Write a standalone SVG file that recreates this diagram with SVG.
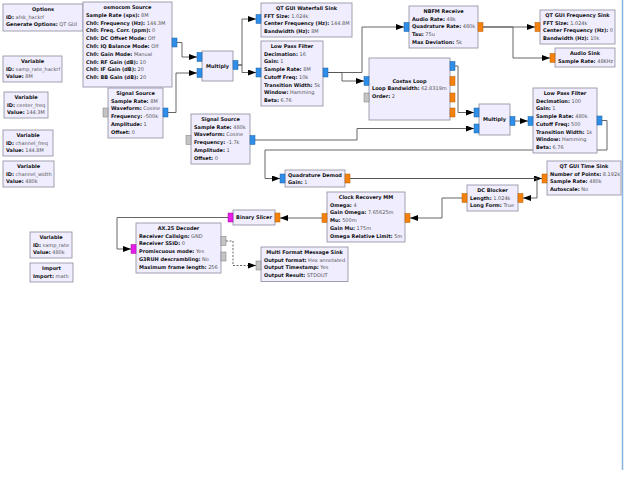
<svg xmlns="http://www.w3.org/2000/svg" width="625" height="500" viewBox="0 0 625 500">
<style>
.blk{fill:#f0edff;stroke:#8a8a9c;stroke-width:0.8}
text{font-family:"DejaVu Sans",sans-serif;font-size:5px;fill:#111}
.ti{font-weight:bold;text-anchor:middle}
.l{font-weight:bold}
.v{fill:#555;font-weight:normal}
.pb{fill:#2f8fe8;stroke:#1c5fa0;stroke-width:0.5}
.po{fill:#f5820f;stroke:#b45c06;stroke-width:0.5}
.pg{fill:#c4c4c4;stroke:#7a7a7a;stroke-width:0.5}
.pm{fill:#e81ce8;stroke:#a010a0;stroke-width:0.5}
.c{fill:none;stroke:#555;stroke-width:0.9;marker-end:url(#ah)}
.d{stroke-dasharray:2,1.5}
</style>
<defs>
<marker id="ah" markerWidth="8" markerHeight="6" refX="8" refY="3" orient="auto" markerUnits="userSpaceOnUse"><path d="M0,0 L8,3 L0,6 z" fill="#000"/></marker>
</defs>
<rect width="625" height="500" fill="#fff"/>
<line x1="622.5" y1="0" x2="622.5" y2="470" stroke="#8ab4e0" stroke-width="1.5"/>

<g id="connectors">
<path class="c" d="M177,42.5 H182 V57 H197"/>
<path class="c" d="M168,112.5 H176 V73 H197"/>
<path class="c" d="M238,65 H242 V19 H256"/>
<path class="c" d="M238,65 H242 V72.5 H256"/>
<path class="c" d="M328,72.5 H362 V27 H404"/>
<path class="c" d="M328,72.5 H342 V81 H364"/>
<path class="c" d="M483,27 H535"/>
<path class="c" d="M483,27 H513 V58 H550"/>
<path class="c" d="M455,66 H458 V112.5 H474"/>
<path class="c" d="M255,140 H357 V128.5 H474"/>
<path class="c" d="M515,121 H528"/>
<path class="c" d="M602,120.5 H607 V150 H265 V178.5 H280"/>
<path class="c" d="M350,178.5 H542"/>
<path class="c" d="M350,178.5 H537 V198 H523"/>
<path class="c" d="M462,198 H442 V218 H410"/>
<path class="c" d="M322,218 H280"/>
<path class="c" d="M228,217.5 H117 V249 H131"/>
<path class="c d" d="M226,241 H233 V265.5 H256"/>
</g>

<g id="options">
<rect class="blk" x="3" y="4" width="80" height="27"/>
<text class="ti" x="43" y="11">Options</text>
<text x="6" y="18.7"><tspan class="l">ID:</tspan><tspan class="v"> afsk_hackrf</tspan></text>
<text x="6" y="26.4"><tspan class="l">Generate Options:</tspan><tspan class="v"> QT GUI</tspan></text>
</g>

<g id="var_samp_rate_hackrf">
<rect class="blk" x="3" y="56" width="59" height="26"/>
<text class="ti" x="32.5" y="63">Variable</text>
<text x="6" y="70.7"><tspan class="l">ID:</tspan><tspan class="v"> samp_rate_hackrf</tspan></text>
<text x="6" y="78.4"><tspan class="l">Value:</tspan><tspan class="v"> 8M</tspan></text>
</g>

<g id="var_center_freq">
<rect class="blk" x="4" y="92" width="44" height="26"/>
<text class="ti" x="26" y="99">Variable</text>
<text x="7" y="106.7"><tspan class="l">ID:</tspan><tspan class="v"> center_freq</tspan></text>
<text x="7" y="114.4"><tspan class="l">Value:</tspan><tspan class="v"> 144.3M</tspan></text>
</g>

<g id="var_channel_freq">
<rect class="blk" x="3" y="130" width="50" height="26"/>
<text class="ti" x="28" y="137">Variable</text>
<text x="6" y="144.7"><tspan class="l">ID:</tspan><tspan class="v"> channel_freq</tspan></text>
<text x="6" y="152.4"><tspan class="l">Value:</tspan><tspan class="v"> 144.8M</tspan></text>
</g>

<g id="var_channel_width">
<rect class="blk" x="3" y="161" width="51" height="26"/>
<text class="ti" x="28.5" y="168">Variable</text>
<text x="6" y="175.7"><tspan class="l">ID:</tspan><tspan class="v"> channel_width</tspan></text>
<text x="6" y="183.4"><tspan class="l">Value:</tspan><tspan class="v"> 480k</tspan></text>
</g>

<g id="var_samp_rate">
<rect class="blk" x="30" y="232" width="42" height="26"/>
<text class="ti" x="51" y="239">Variable</text>
<text x="33" y="246.7"><tspan class="l">ID:</tspan><tspan class="v"> samp_rate</tspan></text>
<text x="33" y="254.4"><tspan class="l">Value:</tspan><tspan class="v"> 480k</tspan></text>
</g>

<g id="import">
<rect class="blk" x="30" y="263" width="43" height="19"/>
<text class="ti" x="51.5" y="270">Import</text>
<text x="33" y="277.7"><tspan class="l">Import:</tspan><tspan class="v"> math</tspan></text>
</g>

<g id="osmocom_source">
<rect class="blk" x="83" y="2" width="89" height="85"/>
<rect class="pb" x="172" y="38" width="5" height="9"/>
<text class="ti" x="127.5" y="9">osmocom Source</text>
<text x="86" y="16.8"><tspan class="l">Sample Rate (sps):</tspan><tspan class="v"> 8M</tspan></text>
<text x="86" y="24.6"><tspan class="l">Ch0: Frequency (Hz):</tspan><tspan class="v"> 144.3M</tspan></text>
<text x="86" y="32.4"><tspan class="l">Ch0: Freq. Corr. (ppm):</tspan><tspan class="v"> 0</tspan></text>
<text x="86" y="40.2"><tspan class="l">Ch0: DC Offset Mode:</tspan><tspan class="v"> Off</tspan></text>
<text x="86" y="48"><tspan class="l">Ch0: IQ Balance Mode:</tspan><tspan class="v"> Off</tspan></text>
<text x="86" y="55.8"><tspan class="l">Ch0: Gain Mode:</tspan><tspan class="v"> Manual</tspan></text>
<text x="86" y="63.6"><tspan class="l">Ch0: RF Gain (dB):</tspan><tspan class="v"> 10</tspan></text>
<text x="86" y="71.4"><tspan class="l">Ch0: IF Gain (dB):</tspan><tspan class="v"> 20</tspan></text>
<text x="86" y="79.2"><tspan class="l">Ch0: BB Gain (dB):</tspan><tspan class="v"> 20</tspan></text>
</g>

<g id="signal_source_1">
<rect class="blk" x="108" y="88" width="55" height="50"/>
<rect class="pg" x="103" y="108" width="5" height="9"/>
<rect class="pb" x="163" y="108" width="5" height="9"/>
<text class="ti" x="135.5" y="95">Signal Source</text>
<text x="111" y="102.7"><tspan class="l">Sample Rate:</tspan><tspan class="v"> 8M</tspan></text>
<text x="111" y="110.4"><tspan class="l">Waveform:</tspan><tspan class="v"> Cosine</tspan></text>
<text x="111" y="118.1"><tspan class="l">Frequency:</tspan><tspan class="v"> -500k</tspan></text>
<text x="111" y="125.8"><tspan class="l">Amplitude:</tspan><tspan class="v"> 1</tspan></text>
<text x="111" y="133.5"><tspan class="l">Offset:</tspan><tspan class="v"> 0</tspan></text>
</g>

<g id="multiply_1">
<rect class="blk" x="202" y="51" width="31" height="30"/>
<rect class="pb" x="197" y="52.5" width="5" height="9"/>
<rect class="pb" x="197" y="68.5" width="5" height="9"/>
<rect class="pb" x="233" y="60.5" width="5" height="9"/>
<text class="ti" x="217.5" y="67.8">Multiply</text>
</g>

<g id="waterfall_sink">
<rect class="blk" x="261" y="3" width="91" height="34"/>
<rect class="pb" x="256" y="14.5" width="5" height="9"/>
<text class="ti" x="306.5" y="10">QT GUI Waterfall Sink</text>
<text x="264" y="17.7"><tspan class="l">FFT Size:</tspan><tspan class="v"> 1.024k</tspan></text>
<text x="264" y="25.4"><tspan class="l">Center Frequency (Hz):</tspan><tspan class="v"> 144.8M</tspan></text>
<text x="264" y="33.1"><tspan class="l">Bandwidth (Hz):</tspan><tspan class="v"> 8M</tspan></text>
</g>

<g id="low_pass_filter_1">
<rect class="blk" x="261" y="41" width="62" height="65"/>
<rect class="pb" x="256" y="68" width="5" height="9"/>
<rect class="pb" x="323" y="68" width="5" height="9"/>
<text class="ti" x="292" y="48">Low Pass Filter</text>
<text x="264" y="55.7"><tspan class="l">Decimation:</tspan><tspan class="v"> 16</tspan></text>
<text x="264" y="63.4"><tspan class="l">Gain:</tspan><tspan class="v"> 1</tspan></text>
<text x="264" y="71.1"><tspan class="l">Sample Rate:</tspan><tspan class="v"> 8M</tspan></text>
<text x="264" y="78.8"><tspan class="l">Cutoff Freq:</tspan><tspan class="v"> 10k</tspan></text>
<text x="264" y="86.5"><tspan class="l">Transition Width:</tspan><tspan class="v"> 5k</tspan></text>
<text x="264" y="94.2"><tspan class="l">Window:</tspan><tspan class="v"> Hamming</tspan></text>
<text x="264" y="101.9"><tspan class="l">Beta:</tspan><tspan class="v"> 6.76</tspan></text>
</g>

<g id="nbfm_receive">
<rect class="blk" x="409" y="6" width="69" height="42"/>
<rect class="pb" x="404" y="22.5" width="5" height="9"/>
<rect class="po" x="478" y="22.5" width="5" height="9"/>
<text class="ti" x="443.5" y="13">NBFM Receive</text>
<text x="412" y="20.7"><tspan class="l">Audio Rate:</tspan><tspan class="v"> 48k</tspan></text>
<text x="412" y="28.4"><tspan class="l">Quadrature Rate:</tspan><tspan class="v"> 480k</tspan></text>
<text x="412" y="36.1"><tspan class="l">Tau:</tspan><tspan class="v"> 75u</tspan></text>
<text x="412" y="43.8"><tspan class="l">Max Deviation:</tspan><tspan class="v"> 5k</tspan></text>
</g>

<g id="freq_sink">
<rect class="blk" x="540" y="10" width="75" height="34"/>
<rect class="po" x="535" y="22.5" width="5" height="9"/>
<text class="ti" x="577.5" y="17">QT GUI Frequency Sink</text>
<text x="543" y="24.7"><tspan class="l">FFT Size:</tspan><tspan class="v"> 1.024k</tspan></text>
<text x="543" y="32.4"><tspan class="l">Center Frequency (Hz):</tspan><tspan class="v"> 0</tspan></text>
<text x="543" y="40.1"><tspan class="l">Bandwidth (Hz):</tspan><tspan class="v"> 10k</tspan></text>
</g>

<g id="audio_sink">
<rect class="blk" x="555" y="48" width="60" height="19"/>
<rect class="po" x="550" y="53.5" width="5" height="9"/>
<text class="ti" x="585" y="55">Audio Sink</text>
<text x="558" y="62.7"><tspan class="l">Sample Rate:</tspan><tspan class="v"> 48KHz</tspan></text>
</g>

<g id="costas_loop">
<rect class="blk" x="369" y="58" width="81" height="62"/>
<rect class="pb" x="364" y="76.5" width="5" height="9"/>
<rect class="pg" x="364" y="93" width="5" height="9"/>
<rect class="pb" x="450" y="61.5" width="5" height="9"/>
<rect class="po" x="450" y="76.5" width="5" height="9"/>
<rect class="po" x="450" y="93" width="5" height="9"/>
<rect class="po" x="450" y="108" width="5" height="9"/>
<text class="ti" x="409.5" y="82.5">Costas Loop</text>
<text x="372" y="90.2"><tspan class="l">Loop Bandwidth:</tspan><tspan class="v"> 62.8319m</tspan></text>
<text x="372" y="97.9"><tspan class="l">Order:</tspan><tspan class="v"> 2</tspan></text>
</g>

<g id="signal_source_2">
<rect class="blk" x="191" y="114" width="59" height="50"/>
<rect class="pg" x="186" y="135.5" width="5" height="9"/>
<rect class="pb" x="250" y="135.5" width="5" height="9"/>
<text class="ti" x="220.5" y="121">Signal Source</text>
<text x="194" y="128.7"><tspan class="l">Sample Rate:</tspan><tspan class="v"> 480k</tspan></text>
<text x="194" y="136.4"><tspan class="l">Waveform:</tspan><tspan class="v"> Cosine</tspan></text>
<text x="194" y="144.1"><tspan class="l">Frequency:</tspan><tspan class="v"> -1.7k</tspan></text>
<text x="194" y="151.8"><tspan class="l">Amplitude:</tspan><tspan class="v"> 1</tspan></text>
<text x="194" y="159.5"><tspan class="l">Offset:</tspan><tspan class="v"> 0</tspan></text>
</g>

<g id="multiply_2">
<rect class="blk" x="479" y="104" width="31" height="31"/>
<rect class="pb" x="474" y="108" width="5" height="9"/>
<rect class="pb" x="474" y="124" width="5" height="9"/>
<rect class="pb" x="510" y="116.5" width="5" height="9"/>
<text class="ti" x="494.5" y="121.3">Multiply</text>
</g>

<g id="low_pass_filter_2">
<rect class="blk" x="533" y="88" width="64" height="65"/>
<rect class="pb" x="528" y="116.5" width="5" height="9"/>
<rect class="pb" x="597" y="116" width="5" height="9"/>
<text class="ti" x="565" y="95">Low Pass Filter</text>
<text x="536" y="102.7"><tspan class="l">Decimation:</tspan><tspan class="v"> 100</tspan></text>
<text x="536" y="110.4"><tspan class="l">Gain:</tspan><tspan class="v"> 1</tspan></text>
<text x="536" y="118.1"><tspan class="l">Sample Rate:</tspan><tspan class="v"> 480k</tspan></text>
<text x="536" y="125.8"><tspan class="l">Cutoff Freq:</tspan><tspan class="v"> 500</tspan></text>
<text x="536" y="133.5"><tspan class="l">Transition Width:</tspan><tspan class="v"> 1k</tspan></text>
<text x="536" y="141.2"><tspan class="l">Window:</tspan><tspan class="v"> Hamming</tspan></text>
<text x="536" y="148.9"><tspan class="l">Beta:</tspan><tspan class="v"> 6.76</tspan></text>
</g>

<g id="quadrature_demod">
<rect class="blk" x="285" y="170" width="60" height="17"/>
<rect class="pb" x="280" y="174" width="5" height="9"/>
<rect class="po" x="345" y="174" width="5" height="9"/>
<text x="288" y="176.5" class="l">Quadrature Demod</text>
<text x="288" y="184"><tspan class="l">Gain:</tspan><tspan class="v"> 1</tspan></text>
</g>

<g id="time_sink">
<rect class="blk" x="547" y="161" width="74" height="34"/>
<rect class="po" x="542" y="174" width="5" height="9"/>
<text class="ti" x="584" y="168">QT GUI Time Sink</text>
<text x="550" y="175.7"><tspan class="l">Number of Points:</tspan><tspan class="v"> 8.192k</tspan></text>
<text x="550" y="183.4"><tspan class="l">Sample Rate:</tspan><tspan class="v"> 480k</tspan></text>
<text x="550" y="191.1"><tspan class="l">Autoscale:</tspan><tspan class="v"> No</tspan></text>
</g>

<g id="dc_blocker">
<rect class="blk" x="467" y="185" width="51" height="26"/>
<rect class="po" x="462" y="193.5" width="5" height="9"/>
<rect class="po" x="518" y="193.5" width="5" height="9"/>
<text class="ti" x="492.5" y="192">DC Blocker</text>
<text x="470" y="199.7"><tspan class="l">Length:</tspan><tspan class="v"> 1.024k</tspan></text>
<text x="470" y="207.4"><tspan class="l">Long Form:</tspan><tspan class="v"> True</tspan></text>
</g>

<g id="clock_recovery_mm">
<rect class="blk" x="327" y="192" width="78" height="50"/>
<rect class="po" x="322" y="213.5" width="5" height="9"/>
<rect class="po" x="405" y="213.5" width="5" height="9"/>
<text class="ti" x="366" y="199">Clock Recovery MM</text>
<text x="330" y="206.7"><tspan class="l">Omega:</tspan><tspan class="v"> 4</tspan></text>
<text x="330" y="214.4"><tspan class="l">Gain Omega:</tspan><tspan class="v"> 7.65625m</tspan></text>
<text x="330" y="222.1"><tspan class="l">Mu:</tspan><tspan class="v"> 500m</tspan></text>
<text x="330" y="229.8"><tspan class="l">Gain Mu:</tspan><tspan class="v"> 175m</tspan></text>
<text x="330" y="237.5"><tspan class="l">Omega Relative Limit:</tspan><tspan class="v"> 5m</tspan></text>
</g>

<g id="binary_slicer">
<rect class="blk" x="233" y="210" width="42" height="15"/>
<rect class="pm" x="228" y="213" width="5" height="9"/>
<rect class="po" x="275" y="213" width="5" height="9"/>
<text class="ti" x="254" y="219.3">Binary Slicer</text>
</g>

<g id="ax25_decoder">
<rect class="blk" x="136" y="223" width="85" height="50"/>
<rect class="pm" x="131" y="244.5" width="5" height="9"/>
<rect class="pg" x="221" y="236.5" width="5" height="9"/>
<rect class="pg" x="221" y="252" width="5" height="9"/>
<text class="ti" x="178.5" y="230">AX.25 Decoder</text>
<text x="139" y="237.7"><tspan class="l">Receiver Callsign:</tspan><tspan class="v"> GND</tspan></text>
<text x="139" y="245.4"><tspan class="l">Receiver SSID:</tspan><tspan class="v"> 0</tspan></text>
<text x="139" y="253.1"><tspan class="l">Promiscuous mode:</tspan><tspan class="v"> Yes</tspan></text>
<text x="139" y="260.8"><tspan class="l">G3RUH descrambling:</tspan><tspan class="v"> No</tspan></text>
<text x="139" y="268.5"><tspan class="l">Maximum frame length:</tspan><tspan class="v"> 256</tspan></text>
</g>

<g id="message_sink">
<rect class="blk" x="261" y="247" width="87" height="34.5"/>
<rect class="pg" x="256" y="261" width="5" height="9"/>
<text class="ti" x="304.5" y="254">Multi Format Message Sink</text>
<text x="264" y="261.7"><tspan class="l">Output format:</tspan><tspan class="v"> Hex annotated</tspan></text>
<text x="264" y="269.4"><tspan class="l">Output Timestamp:</tspan><tspan class="v"> Yes</tspan></text>
<text x="264" y="277.1"><tspan class="l">Output Result:</tspan><tspan class="v"> STDOUT</tspan></text>
</g>
</svg>
